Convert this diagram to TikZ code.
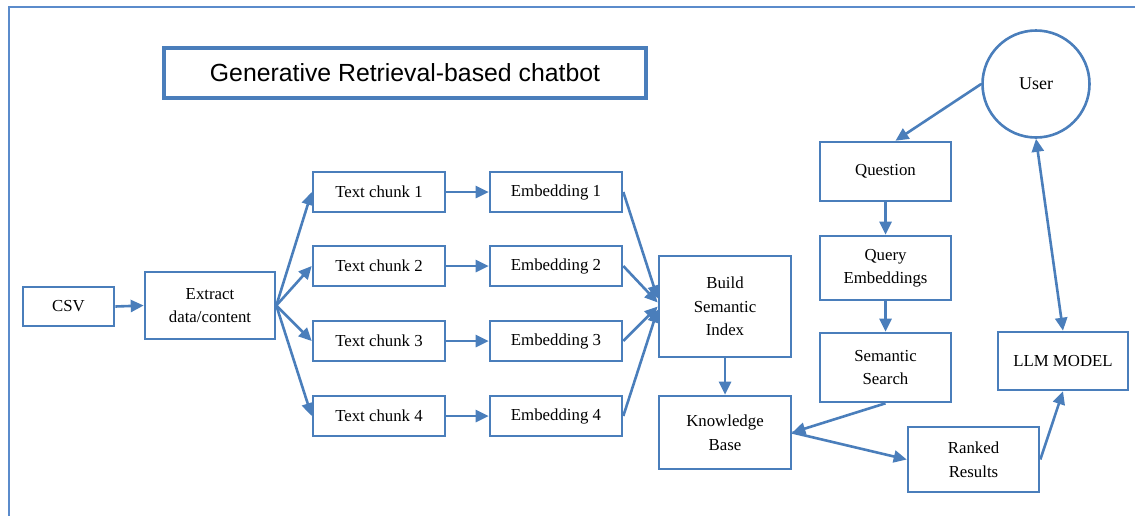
\documentclass[tikz,border=0pt]{standalone}
\usepackage{fontspec}
\setmainfont{Liberation Serif}
\newfontfamily\titlefont{Liberation Sans}
\usetikzlibrary{arrows.meta,calc}
\definecolor{wordblue}{HTML}{4A7EBB}
\definecolor{frameblue}{HTML}{5B8BCB}
\tikzset{
  box/.style={draw=wordblue, line width=2.6pt, rectangle, fill=white, align=center,
    font=\fontsize{16.8}{23.5}\selectfont, inner sep=2pt},
  flow/.style={draw=wordblue, line width=2.6pt,
    -{Triangle[length=13pt,width=12pt]}},
  twoway/.style={draw=wordblue, line width=2.6pt,
    {Triangle[length=13pt,width=12pt]}-{Triangle[length=13pt,width=12pt]}},
}
\begin{document}
\begin{tikzpicture}[x=1pt,y=-1pt]
\useasboundingbox (0,0) rectangle (1135,515);
% outer frame
\draw[frameblue, line width=2.4pt] (9,7) rectangle (1160,540);

% title
\node[draw=wordblue, line width=4.5pt, minimum width=482pt, minimum height=50pt,
  font=\titlefont\fontsize{24.8}{30}\selectfont] (title) at (405,73)
  {Generative Retrieval-based chatbot};

% ingestion
\node[box, minimum width=91pt, minimum height=39pt] (csv) at (68.5,306.5) {CSV};
\node[box, minimum width=130pt, minimum height=67pt] (extract) at (210,305.5) {Extract\\data/content};

\foreach \i/\y in {1/192,2/266,3/341,4/416}{
  \node[box, minimum width=132pt, minimum height=40pt] (chunk\i) at (379,\y) {Text chunk \i};
  \node[box, minimum width=132pt, minimum height=40pt] (emb\i) at (556,\y) {Embedding \i};
}

\node[box, minimum width=132pt, minimum height=101pt] (index) at (725,306.5) {Build\\Semantic\\Index};
\node[box, minimum width=132pt, minimum height=73pt] (kb) at (725,432.5) {Knowledge\\Base};

% query side
\node[draw=wordblue, line width=2.6pt, circle, minimum size=107pt,
  font=\fontsize{18}{20}\selectfont] (user) at (1036,84) {User};
\node[box, minimum width=131pt, minimum height=59pt] (question) at (885.5,171.5) {Question};
\node[box, minimum width=131pt, minimum height=64pt] (query) at (885.5,268) {Query\\Embeddings};
\node[box, minimum width=131pt, minimum height=69pt] (search) at (885.5,367.5) {Semantic\\Search};
\node[box, minimum width=131pt, minimum height=65pt] (ranked) at (973.5,459.5) {Ranked\\Results};
\node[box, minimum width=130pt, minimum height=58pt] (llm) at (1063,361) {LLM MODEL};

% connectors
\draw[flow] (csv.east) -- (extract.west);
\foreach \i in {1,...,4}{
  \draw[flow] (extract.east) -- (chunk\i.west);
  \draw[flow] (chunk\i.east) -- (emb\i.west);
}
\draw[flow] (emb1.east) -- ($(index.west)+(0,-8)$);
\draw[flow] (emb2.east) -- ($(index.west)+(0,-4)$);
\draw[flow] (emb3.east) -- ($(index.west)+(0,0)$);
\draw[flow] (emb4.east) -- ($(index.west)+(0,3)$);
\draw[flow] (index.south) -- (kb.north);

\draw[flow] (user.west) -- ($(question.north)+(10,0)$);
\draw[flow] (question.south) -- (query.north);
\draw[flow] (query.south) -- (search.north);
\draw[flow] (search.south) -- (kb.east);
\draw[flow] (kb.east) -- (ranked.west);
\draw[flow] (ranked.east) -- (llm.south);
\draw[twoway] (user.south) -- (llm.north);
\end{tikzpicture}
\end{document}
